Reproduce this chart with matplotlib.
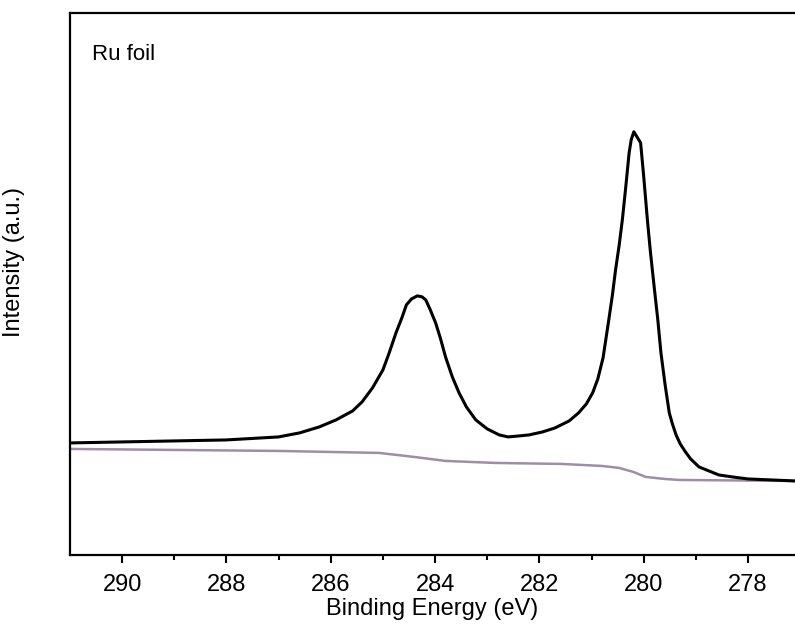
import matplotlib
matplotlib.use("Agg")
import matplotlib.pyplot as plt
import numpy as np

# Ru 3d / C 1s region, Ru foil
energy = [291.0, 290.0, 289.0, 288.0, 287.0, 286.6, 286.22, 285.9, 285.58, 285.4,
          285.2, 285.0, 284.88, 284.75, 284.63, 284.55, 284.45, 284.34, 284.25,
          284.18, 284.1, 283.99, 283.9, 283.8, 283.67, 283.54, 283.4, 283.22,
          283.0, 282.77, 282.6, 282.39, 282.2, 281.94, 281.7, 281.43, 281.25,
          281.1, 280.98, 280.88, 280.78, 280.67, 280.6, 280.54, 280.47, 280.41,
          280.35, 280.28, 280.24, 280.19, 280.06, 280.0, 279.93, 279.87, 279.8,
          279.73, 279.67, 279.59, 279.51, 279.45, 279.38, 279.3, 279.2, 279.1,
          278.94, 278.75, 278.56, 278.3, 278.0, 277.1]
intensity = [112, 113, 114, 115, 118, 122, 128, 135, 144, 153,
             167, 185, 202, 222, 238, 250, 256, 259, 258,
             255, 246, 232, 217, 198, 178, 162, 148, 135,
             126, 120, 118, 119, 120, 123, 127, 134, 142,
             151, 162, 176, 197, 235, 260, 285, 310, 335,
             365, 402, 415, 423, 412, 378, 335, 302, 268,
             235, 202, 170, 142, 131, 120, 111, 103, 96,
             88, 84, 80, 78, 76, 74]

bg_energy = [291.0, 289.0, 287.0, 286.03, 285.07, 284.4, 283.8, 282.84, 281.57,
             280.8, 280.47, 280.2, 279.96, 279.6, 279.32, 277.1]
background = [106, 105, 104, 103, 102, 98, 94, 92, 91,
              89, 87, 83, 78, 76, 75, 74]

plt.rcParams["font.family"] = ["Liberation Sans", "DejaVu Sans"]

fig = plt.figure(figsize=(7.95, 6.35), dpi=100)
ax = fig.add_axes([0.088, 0.126, 0.912, 0.854])

ax.plot(bg_energy, background, color="#a08ca4", lw=1.8)
ax.plot(energy, intensity, color="black", lw=2.2, solid_joinstyle="round")

ax.set_xlim(291, 277.1)
ax.set_ylim(0, 542)
ax.set_xticks(np.arange(290, 277, -2))
ax.set_xticks(np.arange(289, 277, -2), minor=True)
ax.set_yticks([])
ax.tick_params(axis="x", which="major", direction="out", length=6, width=1.5,
               labelsize=17, pad=8)
ax.tick_params(axis="x", which="minor", direction="out", length=3.5, width=1.5)

for side in ["left", "bottom", "top"]:
    ax.spines[side].set_linewidth(1.6)
ax.spines["right"].set_visible(False)

ax.set_xlabel("Binding Energy (eV)", fontsize=17, labelpad=1)
ax.set_ylabel("Intensity (a.u.)", fontsize=17, labelpad=10)
ax.yaxis.set_label_coords(-0.062, 0.54)

ax.text(0.03, 0.913, "Ru foil", transform=ax.transAxes, fontsize=16,
        ha="left", va="baseline")

fig.savefig("out.png", dpi=100)
